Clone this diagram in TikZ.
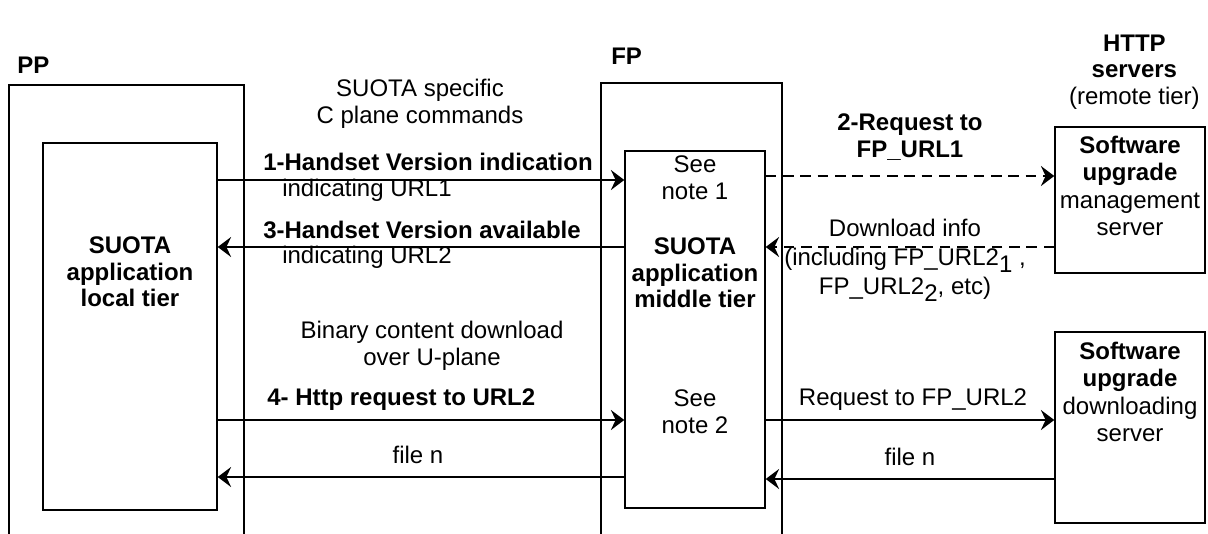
\documentclass[tikz,border=0pt]{standalone}
\usepackage{fontspec}
\setmainfont{Liberation Sans}
\usetikzlibrary{arrows.meta}
\begin{document}
\begin{tikzpicture}[x=0.75pt,y=-0.75pt,
  box/.style={draw, line width=1.1pt, inner sep=0pt},
  txt/.style={align=center, inner sep=0pt, font=\fontsize{18}{20}\selectfont},
  btxt/.style={align=center, inner sep=0pt, font=\fontsize{18}{20}\selectfont\bfseries},
  arr/.style={line width=1.6pt, -{Stealth[length=10pt,width=15pt,inset=3.5pt]}},
  darr/.style={arr, dash pattern=on 8pt off 5pt}]
\useasboundingbox (0,0) rectangle (1208,533);
\clip (0,0) rectangle (1208,533);
\fill[white] (0,0) rectangle (1208,533);

% boxes
\node[box, minimum width=176.25pt, minimum height=356.25pt] (ppbox) at (126.5,322.5) {};
\node[box, minimum width=130.5pt, minimum height=275.25pt] (local) at (130,326.5) {};
\node[box, minimum width=135.75pt, minimum height=357.75pt] (fpbox) at (691.5,321.5) {};
\node[box, minimum width=105pt, minimum height=267.75pt] (mid) at (695,329.5) {};
\node[box, minimum width=112.5pt, minimum height=109.5pt] (mgmt) at (1130,200) {};
\node[box, minimum width=112.5pt, minimum height=143.25pt] (dl) at (1130,427.5) {};

% titles
\node[btxt, anchor=west] (pp) at (17,65) {PP};
\node[btxt, anchor=west] (fp) at (611,56) {FP};
\node[txt, anchor=east] (http) at (1200,72) {\textbf{HTTP}\\\textbf{servers}\\(remote tier)};

% box texts
\node[btxt] (localtxt) at (130,272) {SUOTA\\application\\local tier};
\node[txt] (note1) at (695,178) {See\\note 1};
\node[btxt] (midtxt) at (695,273) {SUOTA\\application\\middle tier};
\node[txt] (note2) at (695,412) {See\\note 2};
\node[txt, font=\fontsize{18}{20.5}\selectfont] (mgmttxt) at (1130,186) {\textbf{Software}\\\textbf{upgrade}\\management\\server};
\node[txt, font=\fontsize{18}{20.5}\selectfont] (dltxt) at (1130,392) {\textbf{Software}\\\textbf{upgrade}\\downloading\\server};

% row coordinates
\coordinate (r1) at (0,180);
\coordinate (r2) at (0,176);
\coordinate (r3) at (0,247);
\coordinate (rd) at (0,247);
\coordinate (r4) at (0,420);
\coordinate (r5) at (0,477);
\coordinate (r6) at (0,479);

% connectors
\draw[arr] (local.east |- r1) -- (mid.west |- r1);
\draw[arr] (mid.west |- r3) -- (local.east |- r3);
\draw[darr] (mid.east |- r2) -- (mgmt.west |- r2);
\draw[darr] (mgmt.west |- rd) -- (mid.east |- rd);
\draw[arr] (local.east |- r4) -- (mid.west |- r4);
\draw[arr] (mid.west |- r5) -- (local.east |- r5);
\draw[arr] (mid.east |- r4) -- (dl.west |- r4);
\draw[arr] (dl.west |- r6) -- (mid.east |- r6);

% connector labels
\node[txt] (cplane) at (420,104) {SUOTA specific\\C plane commands};
\node[btxt, anchor=west] (m1) at (263,162) {1-Handset Version indication};
\node[txt, anchor=west] (m1b) at (282,190) {indicating URL1};
\node[btxt, anchor=west] (m3) at (263,230) {3-Handset Version available};
\node[txt, anchor=west] (m3b) at (282,257) {indicating URL2};
\node[txt] (uplane) at (432,346) {Binary content download\\over U-plane};
\node[btxt, anchor=west] (m4) at (267,400) {4- Http request to URL2};
\node[txt] (filen1) at (418,455) {file n};
\node[btxt] (m2) at (910,137) {2-Request to\\FP\_URL1};
\node[txt, font=\fontsize{18}{22}\selectfont] (dinfo) at (905,260) {Download info\\(including FP\_URL2\raisebox{-5pt}{1} ,\\FP\_URL2\raisebox{-5pt}{2}, etc)};
\node[txt] (req2) at (913,400) {Request to FP\_URL2};
\node[txt] (filen2) at (910,457) {file n};
\end{tikzpicture}
\end{document}
